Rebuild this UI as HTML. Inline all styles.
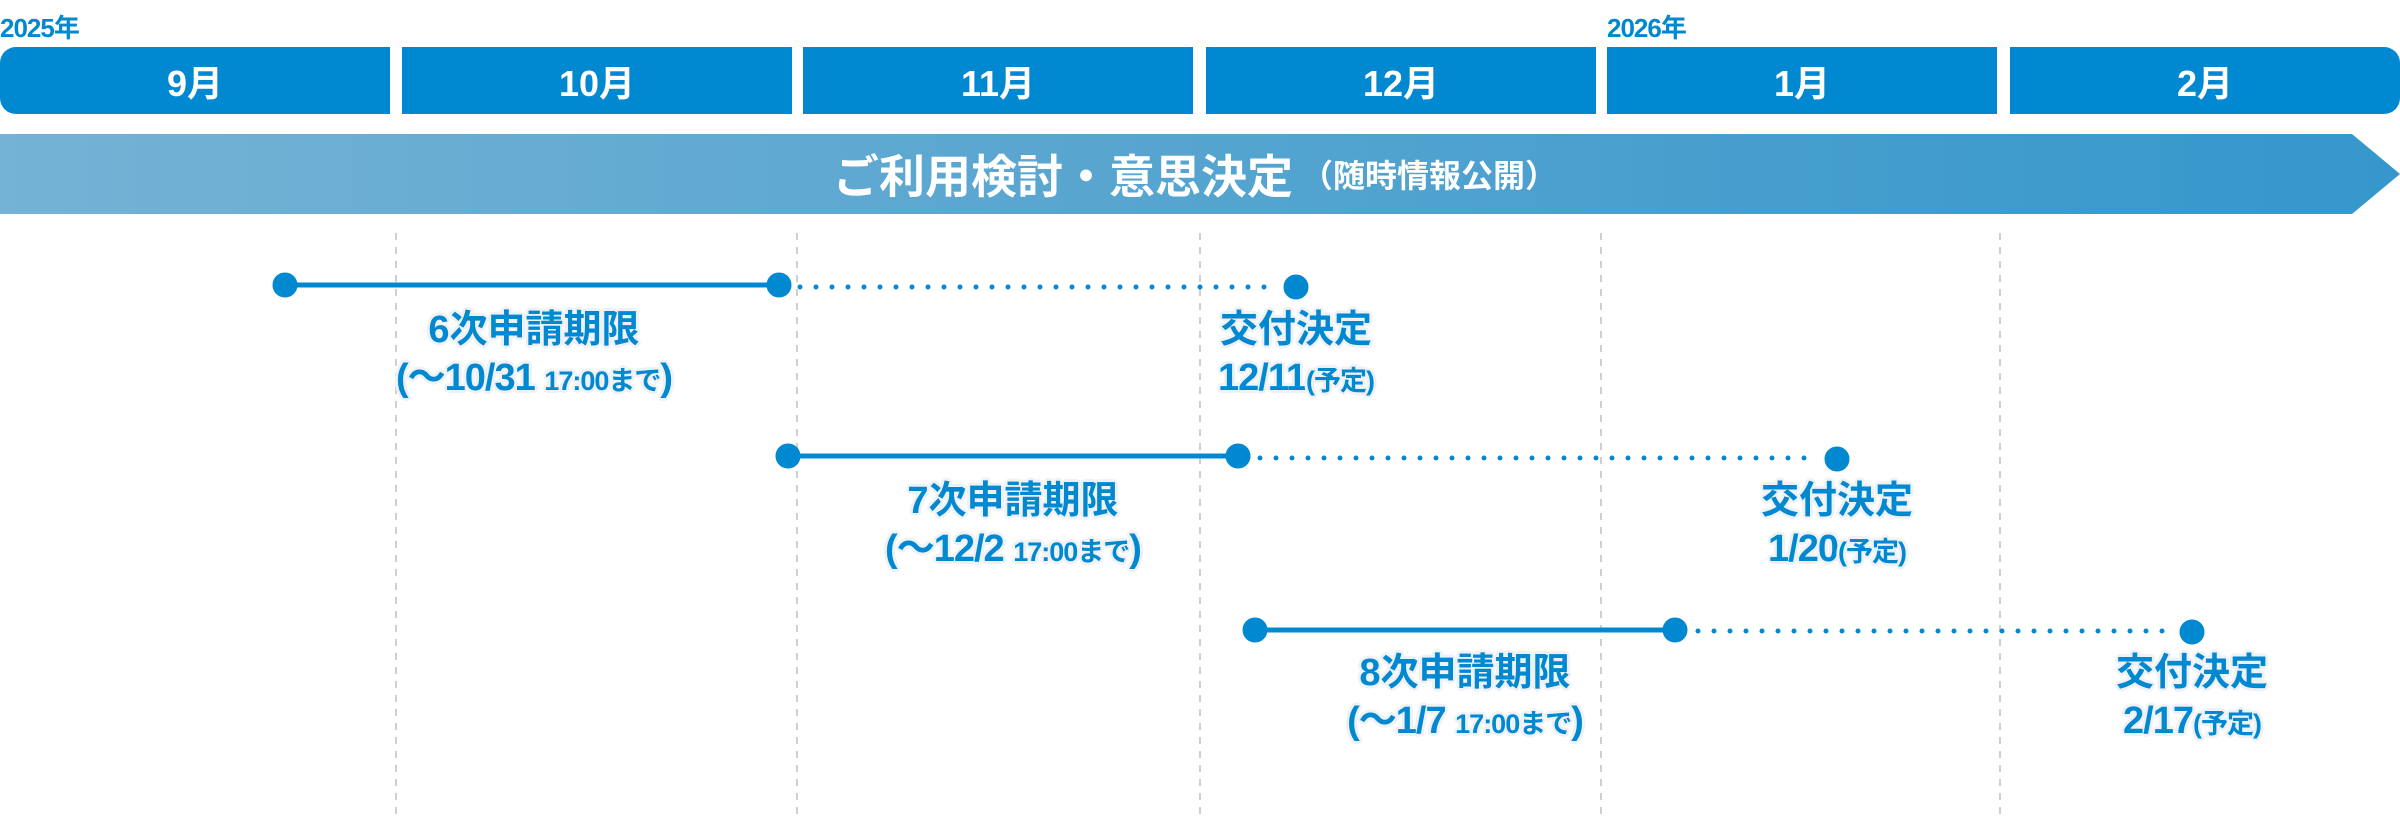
<!DOCTYPE html>
<html><head><meta charset="utf-8"><style>
*{margin:0;padding:0;box-sizing:border-box}
body{width:2400px;height:816px;background:#fff;position:relative;overflow:hidden;font-family:"Liberation Sans","Noto Sans CJK JP",sans-serif;font-weight:bold}
.yr{position:absolute;top:8px;color:#0088d1;font-size:26px;letter-spacing:-1px}
.m{position:absolute;top:47px;height:67px;width:390px;background:#0088d1;color:#fff;font-size:36px;display:flex;align-items:center;justify-content:center}
.lab{position:absolute;width:600px;text-align:center;color:#0088d1;line-height:1;
text-shadow:0 0 3px #eef1f6,2px 2px 0 #eef1f6,-2px -2px 0 #eef1f6,2px -2px 0 #eef1f6,-2px 2px 0 #eef1f6,3px 0 0 #eef1f6,-3px 0 0 #eef1f6,0 3px 0 #eef1f6,0 -3px 0 #eef1f6}
.l1{font-size:38px;height:48px}
.l2{font-size:38px;letter-spacing:-1px}
.s{font-size:27px}
</style></head><body>
<div class="yr" style="left:0">2025年</div>
<div class="yr" style="left:1607px">2026年</div>
<div class="m" style="left:0;border-radius:16px 0 0 16px">9月</div>
<div class="m" style="left:402px">10月</div>
<div class="m" style="left:803px">11月</div>
<div class="m" style="left:1206px">12月</div>
<div class="m" style="left:1607px">1月</div>
<div class="m" style="left:2010px;border-radius:0 16px 16px 0">2月</div>
<svg width="2400" height="816" style="position:absolute;left:0;top:0">
<defs><linearGradient id="g" x1="0" x2="1"><stop offset="0" stop-color="#75b2d5"/><stop offset="1" stop-color="#3597cb"/></linearGradient></defs>
<polygon points="0,134 2352,134 2400,174 2352,214 0,214" fill="url(#g)"/>
<g stroke="#cfcfcf" stroke-width="2" stroke-dasharray="7,7">
<line x1="396" y1="233" x2="396" y2="816"/><line x1="797" y1="233" x2="797" y2="816"/>
<line x1="1200" y1="233" x2="1200" y2="816"/><line x1="1601" y1="233" x2="1601" y2="816"/>
<line x1="2000" y1="233" x2="2000" y2="816"/></g>
<g fill="#0088d1" stroke="#0088d1">
<line x1="285" y1="285" x2="779" y2="285" stroke-width="5"/>
<line x1="800" y1="287" x2="1280" y2="287" stroke-width="5" stroke-linecap="round" stroke-dasharray="0,16"/>
<circle cx="285" cy="285" r="12"/><circle cx="779" cy="285" r="12"/><circle cx="1296" cy="287" r="12"/>
<line x1="788" y1="456" x2="1238" y2="456" stroke-width="5"/>
<line x1="1260" y1="458" x2="1820" y2="458" stroke-width="5" stroke-linecap="round" stroke-dasharray="0,16"/>
<circle cx="788" cy="456" r="12"/><circle cx="1238" cy="456" r="12"/><circle cx="1837" cy="459" r="12"/>
<line x1="1255" y1="630" x2="1675" y2="630" stroke-width="5"/>
<line x1="1698" y1="631" x2="2176" y2="631" stroke-width="5" stroke-linecap="round" stroke-dasharray="0,16"/>
<circle cx="1255" cy="630" r="12"/><circle cx="1675" cy="630" r="12"/><circle cx="2192" cy="632" r="12"/>
</g></svg>
<div style="position:absolute;left:0;top:134px;width:2390px;height:80px;display:flex;align-items:center;justify-content:center;color:#fff;font-size:46px">ご利用検討・意思決定<span style="font-size:32px;margin-left:8px">（随時情報公開）</span></div>
<div class="lab" style="left:234px;top:311px"><div class="l1">6次申請期限</div><div class="l2">(～10/31 <span class="s">17:00まで</span>)</div></div>
<div class="lab" style="left:996px;top:311px"><div class="l1">交付決定</div><div class="l2">12/11<span class="s">(予定)</span></div></div>
<div class="lab" style="left:713px;top:482px"><div class="l1">7次申請期限</div><div class="l2">(～12/2 <span class="s">17:00まで</span>)</div></div>
<div class="lab" style="left:1537px;top:482px"><div class="l1">交付決定</div><div class="l2">1/20<span class="s">(予定)</span></div></div>
<div class="lab" style="left:1165px;top:654px"><div class="l1">8次申請期限</div><div class="l2">(～1/7 <span class="s">17:00まで</span>)</div></div>
<div class="lab" style="left:1892px;top:654px"><div class="l1">交付決定</div><div class="l2">2/17<span class="s">(予定)</span></div></div>
</body></html>
